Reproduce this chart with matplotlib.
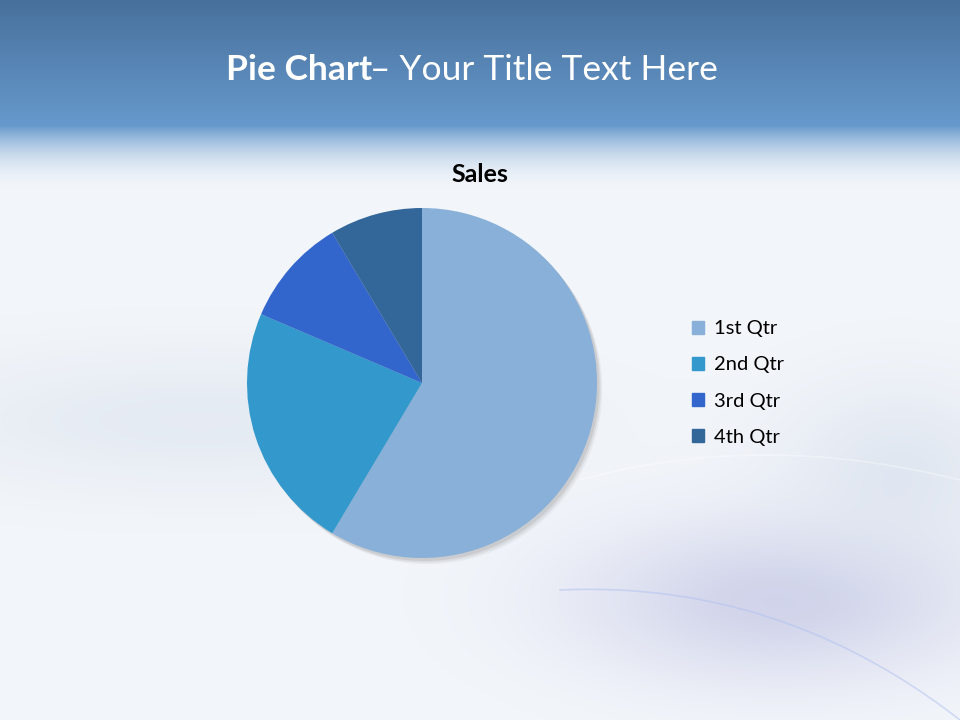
import numpy as np
import matplotlib
matplotlib.use("Agg")
import matplotlib.pyplot as plt
from matplotlib.patches import Circle

# ---- data ----
categories = ["1st Qtr", "2nd Qtr", "3rd Qtr", "4th Qtr"]
sales = [8.2, 3.2, 1.4, 1.2]
colors = ["#88B0D8", "#3399CC", "#3366CC", "#336699"]
chart_title = "Sales"

plt.rcParams['font.family'] = ['Lato', 'DejaVu Sans']

W, H = 960, 720
fig = plt.figure(figsize=(9.6, 7.2), dpi=100)

# ---- background ----
bg = fig.add_axes([0, 0, 1, 1])
bg.set_axis_off()
yy, xx = np.mgrid[0:H, 0:W].astype(float)
top = np.array([0x48, 0x70, 0x9C]) / 255
mid = np.array([0x66, 0x99, 0xCC]) / 255
light = np.array([0xF3, 0xF6, 0xFA]) / 255
img = np.zeros((H, W, 3))
for c in range(3):
    band1 = top[c] + (mid[c] - top[c]) * np.clip(yy / 125, 0, 1)
    t2 = np.clip((yy - 125) / 70, 0, 1)
    band2 = mid[c] + (light[c] - mid[c]) * (1 - (1 - t2) ** 2.2)
    img[..., c] = np.where(yy < 125, band1, np.where(yy < 195, band2, light[c]))
below = (yy > 195).astype(float)
# soft bluish band in the middle-left
band = np.exp(-((yy - 420) / 70) ** 2) * np.exp(-((xx - 200) / 300) ** 2) * below
blu = np.array([0xDF, 0xE6, 0xF0]) / 255
for c in range(3):
    img[..., c] = img[..., c] * (1 - 0.7 * band) + blu[c] * 0.7 * band
# lavender haze bottom right
haze = np.exp(-(((xx - 780) / 200) ** 2 + ((yy - 600) / 80) ** 2)) * below
lav = np.array([0xC8, 0xCB, 0xE6]) / 255
for c in range(3):
    img[..., c] = img[..., c] * (1 - 0.8 * haze) + lav[c] * 0.8 * haze
haze2 = np.exp(-(((xx - 900) / 120) ** 2 + ((yy - 470) / 90) ** 2)) * below
blu2 = np.array([0xD6, 0xDE, 0xEC]) / 255
for c in range(3):
    img[..., c] = img[..., c] * (1 - 0.6 * haze2) + blu2[c] * 0.6 * haze2
bg.imshow(np.clip(img, 0, 1), extent=[0, W, H, 0], aspect='auto', interpolation='bilinear')
bg.set_xlim(0, W)
bg.set_ylim(H, 0)
# decorative swirls
s = np.linspace(0, 1, 200)
for (x0, y0, x1, y1, qx, qy, a, col) in [
    (560, 590, 960, 720, 780, 580, 0.5, "#AFC0F0"),
    (580, 480, 960, 480, 760, 430, 0.35, "white"),
]:
    bx = (1 - s) ** 2 * x0 + 2 * (1 - s) * s * qx + s ** 2 * x1
    by = (1 - s) ** 2 * y0 + 2 * (1 - s) * s * qy + s ** 2 * y1
    bg.plot(bx, by, color=col, lw=1.2, alpha=a)

# ---- titles ----
fig.text(226 / W, 1 - 70 / H, "Pie Chart", color="white", fontsize=25.5,
         fontweight="bold", ha="left", va="center")
fig.text(370 / W, 1 - 70 / H, "– Your Title Text Here", color="white",
         fontsize=25.5, ha="left", va="center")
fig.text(480 / W, 1 - 175 / H, chart_title, color="black", fontsize=18,
         fontweight="bold", ha="center", va="center")

# ---- pie ----
cx, cy, r = 422, 383, 175
m = 1.15
ax = fig.add_axes([(cx - m * r) / W, (H - cy - m * r) / H, 2 * m * r / W, 2 * m * r / H])
ax.set_axis_off()
for dx, dy, al in [(0.03, -0.035, 0.05), (0.022, -0.026, 0.07), (0.014, -0.017, 0.09)]:
    ax.add_patch(Circle((dx, dy), 1.0, color="#303030", alpha=al, zorder=0, lw=0))
ax.pie(sales, colors=colors, startangle=90, counterclock=False,
       wedgeprops=dict(edgecolor="none", linewidth=0))
ax.set_xlim(-m, m)
ax.set_ylim(-m, m)
ax.set_aspect("equal")

# ---- legend ----
handles = [plt.Rectangle((0, 0), 1, 1, color=c) for c in colors]
fig.legend(handles, categories, loc="center left",
           bbox_to_anchor=(674 / W, 1 - 383 / H), frameon=False,
           fontsize=14.5, handlelength=0.6, handleheight=0.6,
           handletextpad=0.5, labelspacing=0.95)

fig.savefig("out.png", dpi=100)
